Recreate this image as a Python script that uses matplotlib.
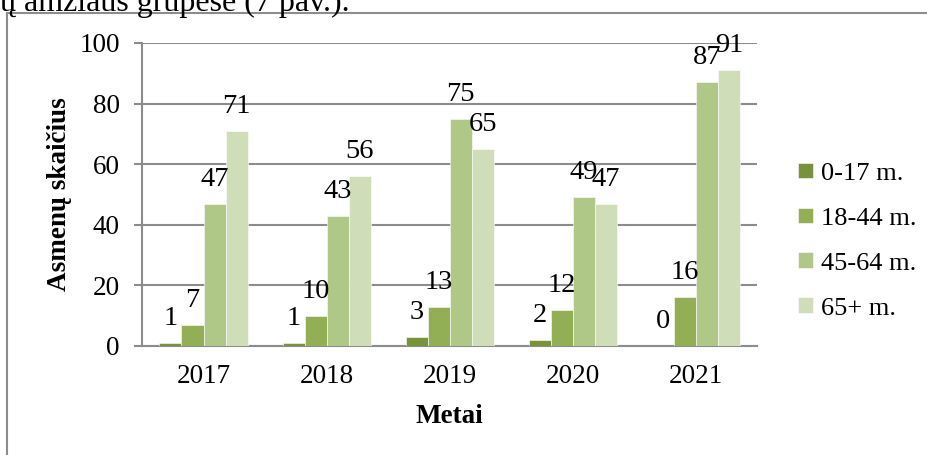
import numpy as np
import matplotlib.pyplot as plt
from matplotlib.lines import Line2D

plt.rcParams['font.family'] = ['Liberation Serif', 'DejaVu Serif']

metai = ['2017', '2018', '2019', '2020', '2021']
grupes = ['0-17 m.', '18-44 m.', '45-64 m.', '65+ m.']
v_0_17 = [1, 1, 3, 2, 0]
v_18_44 = [7, 10, 13, 12, 16]
v_45_64 = [47, 43, 75, 49, 87]
v_65 = [71, 56, 65, 47, 91]
spalvos = ['#77933C', '#93AF55', '#AFC787', '#CFDDB8']

fig = plt.figure(figsize=(9.28, 4.55), dpi=100)
ax = fig.add_axes([0.153, 0.2396, 0.663, 0.666])

x = np.arange(len(metai))
w = 0.179
for i, (vals, c) in enumerate(zip([v_0_17, v_18_44, v_45_64, v_65], spalvos)):
    pos = x + (i - 1.5) * w
    ax.bar(pos, vals, w, color=c, label=grupes[i], edgecolor='white',
           linewidth=0.4, zorder=3)
    for px, v in zip(pos, vals):
        ax.annotate(str(v), (px, v), xytext=(0, 13), textcoords='offset points',
                    ha='center', va='baseline', fontsize=20.5, zorder=4)

ax.set_xlim(-0.5, 4.5)
ax.set_ylim(0, 100)
ax.set_yticks(range(0, 101, 20))
ax.set_xticks(x)
ax.set_xticklabels(metai)
ax.tick_params(axis='y', length=6, width=1.5, color='#8c8c8c', labelsize=19.5, pad=10)
ax.tick_params(axis='x', length=0, labelsize=19.5, pad=13)
ax.grid(axis='y', color='#8c8c8c', linewidth=1.5, zorder=1)
for s in ['top', 'right']:
    ax.spines[s].set_visible(False)
for s in ['left', 'bottom']:
    ax.spines[s].set_color('#8c8c8c')
    ax.spines[s].set_linewidth(1.5)
ax.set_ylabel('Asmenų skaičius', fontsize=19.5, fontweight='bold', labelpad=5)
ax.set_xlabel('Metai', fontsize=19.5, fontweight='bold', labelpad=11)

leg = fig.legend(loc='center left', bbox_to_anchor=(0.849, 0.47), frameon=False,
                 fontsize=19, handlelength=0.55, handleheight=0.55, handletextpad=0.3,
                 labelspacing=0.86, borderaxespad=0)

# rėmelis ir teksto eilutė virš jo
fig.add_artist(Line2D([7 / 928, 7 / 928], [0, 1 - 13 / 455], color='#8c8c8c', lw=1.5))
fig.add_artist(Line2D([7 / 928, 1], [1 - 13 / 455, 1 - 13 / 455], color='#8c8c8c', lw=1.5))
fig.text(0.0, 1 - 11 / 455, 'ų amžiaus grupėse (7 pav.).', fontsize=23, va='baseline', ha='left')

fig.savefig('out.png', dpi=100)
